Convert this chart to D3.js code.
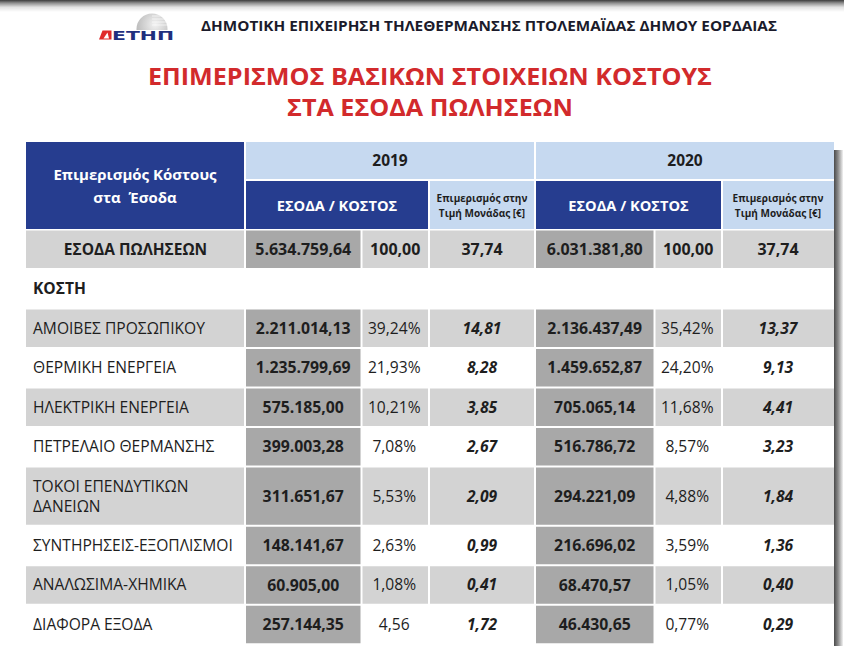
<!DOCTYPE html>
<html><head><meta charset="utf-8">
<script src="https://cdn.jsdelivr.net/npm/d3@7"></script>
<style>html,body{margin:0;padding:0;background:#fff;} svg{display:block;}</style>
</head><body><div id="chart"></div>
<script>
// ---------- DATA ----------
const companyName = "ΔΗΜΟΤΙΚΗ ΕΠΙΧΕΙΡΗΣΗ ΤΗΛΕΘΕΡΜΑΝΣΗΣ ΠΤΟΛΕΜΑΪΔΑΣ ΔΗΜΟΥ ΕΟΡΔΑΙΑΣ";
const logoText = "ΕΤΗΠ";
const titleLines = ["ΕΠΙΜΕΡΙΣΜΟΣ ΒΑΣΙΚΩΝ ΣΤΟΙΧΕΙΩΝ ΚΟΣΤΟΥΣ", "ΣΤΑ ΕΣΟΔΑ ΠΩΛΗΣΕΩΝ"];
const cornerHeader = ["Επιμερισμός Κόστους", "στα  Έσοδα"];
const years = ["2019", "2020"];
const amountHeader = "ΕΣΟΔΑ / ΚΟΣΤΟΣ";
const unitHeader = ["Επιμερισμός στην", "Τιμή Μονάδας [€]"];
const revenueLabel = "ΕΣΟΔΑ ΠΩΛΗΣΕΩΝ";
const revenue = [5634759.64, 6031381.80];
const revenuePct = [100.00, 100.00];
const revenueUnit = [37.74, 37.74];
const sectionLabel = "ΚΟΣΤΗ";
const categories = [
  "ΑΜΟΙΒΕΣ ΠΡΟΣΩΠΙΚΟΥ",
  "ΘΕΡΜΙΚΗ ΕΝΕΡΓΕΙΑ",
  "ΗΛΕΚΤΡΙΚΗ ΕΝΕΡΓΕΙΑ",
  "ΠΕΤΡΕΛΑΙΟ ΘΕΡΜΑΝΣΗΣ",
  "ΤΟΚΟΙ ΕΠΕΝΔΥΤΙΚΩΝ\nΔΑΝΕΙΩΝ",
  "ΣΥΝΤΗΡΗΣΕΙΣ-ΕΞΟΠΛΙΣΜΟΙ",
  "ΑΝΑΛΩΣΙΜΑ-ΧΗΜΙΚΑ",
  "ΔΙΑΦΟΡΑ ΕΞΟΔΑ"
];
const cost2019 = [2211014.13, 1235799.69, 575185.00, 399003.28, 311651.67, 148141.67, 60905.00, 257144.35];
const pct2019  = [39.24, 21.93, 10.21, 7.08, 5.53, 2.63, 1.08, 4.56];
const pctSign2019 = [true, true, true, true, true, true, true, false];
const unit2019 = [14.81, 8.28, 3.85, 2.67, 2.09, 0.99, 0.41, 1.72];
const cost2020 = [2136437.49, 1459652.87, 705065.14, 516786.72, 294221.09, 216696.02, 68470.57, 46430.65];
const pct2020  = [35.42, 24.20, 11.68, 8.57, 4.88, 3.59, 1.05, 0.77];
const pctSign2020 = [true, true, true, true, true, true, true, true];
const unit2020 = [13.37, 9.13, 4.41, 3.23, 1.84, 1.36, 0.40, 0.29];

// ---------- SETUP ----------
const W = 844, H = 646;
const FONT = "'Open Sans','Noto Sans','DejaVu Sans',sans-serif";
const loc = d3.formatLocale({decimal: ",", thousands: ".", grouping: [3], currency: ["", "€"]});
const fMoney = loc.format(",.2f");
const fNum = loc.format(".2f");

const C = {
  navy: "#263d8f", light: "#c6d9f0", gray: "#d3d3d3", dark: "#a8a8a8",
  text: "#1e1e1e", red: "#d22a2c"
};
const FS = {label: 15.6, value: 15.8, pct: 15.6, unit: 15.6, head: 14.6};

const svg = d3.select("#chart").append("svg")
  .attr("width", W).attr("height", H)
  .style("font-family", FONT);
const defs = svg.append("defs");

function fitText(sel, maxW) {
  sel.each(function () {
    const len = this.getComputedTextLength();
    if (len > maxW) d3.select(this).attr("textLength", maxW).attr("lengthAdjust", "spacingAndGlyphs");
  });
}

// top bar
const gTop = defs.append("linearGradient").attr("id", "topbar")
  .attr("x1", 0).attr("y1", 0).attr("x2", 0).attr("y2", 1);
gTop.append("stop").attr("offset", "0%").attr("stop-color", "#3c3c3c");
gTop.append("stop").attr("offset", "25%").attr("stop-color", "#8e8e8e");
gTop.append("stop").attr("offset", "60%").attr("stop-color", "#e2e2e2");
gTop.append("stop").attr("offset", "100%").attr("stop-color", "#ffffff");
svg.append("rect").attr("x", 0).attr("y", 0).attr("width", W).attr("height", 12).attr("fill", "url(#topbar)");

// logo
const gGlobe = defs.append("radialGradient").attr("id", "globe").attr("cx", "60%").attr("cy", "35%").attr("r", "70%");
gGlobe.append("stop").attr("offset", "0%").attr("stop-color", "#f2f2f2");
gGlobe.append("stop").attr("offset", "100%").attr("stop-color", "#b4b4b4");
defs.append("clipPath").attr("id", "globeClip").append("rect").attr("x", 130).attr("y", 8).attr("width", 50).attr("height", 22);
const logo = svg.append("g");
const globe = logo.append("g").attr("clip-path", "url(#globeClip)");
globe.append("circle").attr("cx", 152).attr("cy", 29).attr("r", 15.5).attr("fill", "url(#globe)");
[16, 19, 22, 25].forEach(y => globe.append("line").attr("x1", 152).attr("x2", 170).attr("y1", y).attr("y2", y)
  .attr("stroke", "#fff").attr("stroke-width", 0.8).attr("opacity", 0.8));
logo.append("polygon").attr("points", "99,39.5 102.5,30.5 111.5,30.5 111.5,39.5").attr("fill", "#e02a2a");
logo.append("polygon").attr("points", "103.5,38.5 107.5,32.5 109,38.5").attr("fill", "#fff");
logo.append("text").attr("x", 112).attr("y", 39.6).text(logoText)
  .attr("font-family", "'DejaVu Sans',sans-serif").attr("font-weight", 900).attr("font-size", 12.5)
  .attr("fill", "#1f2f7e").attr("textLength", 62).attr("lengthAdjust", "spacingAndGlyphs");

// company name
svg.append("text").attr("x", 201).attr("y", 30.5).text(companyName)
  .attr("font-weight", 700).attr("font-size", 14).attr("fill", "#1b1b2b")
  .attr("textLength", 576).attr("lengthAdjust", "spacingAndGlyphs");

// title
const titleW = [564, 286], titleY = [85, 116];
titleLines.forEach((t, i) => {
  svg.append("text").attr("x", 430).attr("y", titleY[i]).attr("text-anchor", "middle").text(t)
    .attr("font-weight", 700).attr("font-size", 23.5).attr("fill", C.red)
    .attr("textLength", titleW[i]).attr("lengthAdjust", "spacingAndGlyphs");
});

// ---------- TABLE LAYOUT ----------
const colEdges = [26, 245, 361.5, 429, 535, 654.5, 722, 834];
const colX = c => colEdges[c] + (c === 0 ? 0 : 1);
const colW = c => colEdges[c + 1] - colEdges[c] - (c === 0 ? 1 : (c === 6 ? 1 : 2));
const colMid = c => (colEdges[c] + colEdges[c + 1]) / 2;

// shadow at right
const gSh = defs.append("linearGradient").attr("id", "shadow").attr("x1", 0).attr("x2", 1).attr("y1", 0).attr("y2", 0);
gSh.append("stop").attr("offset", "0%").attr("stop-color", "#4a4a4a");
gSh.append("stop").attr("offset", "45%").attr("stop-color", "#8a8a8a");
gSh.append("stop").attr("offset", "100%").attr("stop-color", "#f2f2f2");
svg.append("rect").attr("x", 834).attr("y", 150).attr("width", 9).attr("height", H - 150).attr("fill", "url(#shadow)");

// header
const head = svg.append("g");
head.append("rect").attr("x", 26).attr("y", 142).attr("width", 218).attr("height", 87).attr("fill", C.navy);
cornerHeader.forEach((t, i) => head.append("text").attr("x", 135).attr("y", 175 + i * 23).attr("dy", "0.35em")
  .attr("text-anchor", "middle").attr("fill", "#fff").attr("font-weight", 700).attr("font-size", 15)
  .style("white-space", "pre").text(t));

years.forEach((yr, k) => {
  const c0 = 1 + k * 3;
  const x0 = colX(c0), x1 = colEdges[c0 + 3] - (k === 1 ? 0 : 1);
  head.append("rect").attr("x", x0).attr("y", 142).attr("width", x1 - x0).attr("height", 37).attr("fill", C.light);
  head.append("text").attr("x", (x0 + x1) / 2).attr("y", 161).attr("dy", "0.35em").attr("text-anchor", "middle")
    .attr("font-weight", 700).attr("font-size", 15.5).attr("fill", C.text).text(yr);
  const xa = colX(c0), xb = colEdges[c0 + 2] - 1;
  head.append("rect").attr("x", xa).attr("y", 181).attr("width", xb - xa).attr("height", 48).attr("fill", C.navy);
  head.append("text").attr("x", (xa + xb) / 2).attr("y", 206).attr("dy", "0.35em").attr("text-anchor", "middle")
    .attr("font-weight", 700).attr("font-size", FS.head).attr("fill", "#fff").text(amountHeader);
  head.append("rect").attr("x", colX(c0 + 2)).attr("y", 181).attr("width", colW(c0 + 2)).attr("height", 48).attr("fill", C.light);
  unitHeader.forEach((t, i) => head.append("text").attr("x", colMid(c0 + 2)).attr("y", 198 + i * 15).attr("dy", "0.35em")
    .attr("text-anchor", "middle").attr("font-weight", 700).attr("font-size", 10).attr("fill", C.text).text(t)
    .call(fitText, colW(c0 + 2) - 6));
});

// rows
const rows = [];
rows.push({type: "revenue", weight: 1});
rows.push({type: "section", weight: 1});
categories.forEach((cat, i) => rows.push({type: "body", i, lines: cat.split("\n"), weight: cat.includes("\n") ? 1.5 : 1}));
let acc = 0;
rows.forEach(r => { r.u0 = acc; acc += r.weight; r.u1 = acc; });
const y = d3.scaleLinear().domain([0, 1]).range([229, 268.5]);

const body = svg.append("g");
rows.forEach(r => {
  const top = y(r.u0) + 1.5, bot = y(r.u1) - 0.5, mid = (top + bot) / 2;
  if (r.type === "section") {
    body.append("text").attr("x", 33).attr("y", mid).attr("dy", "0.35em").attr("font-weight", 700)
      .attr("font-size", FS.label).attr("fill", C.text).text(sectionLabel);
    return;
  }
  const striped = r.type === "revenue" || r.i % 2 === 0;
  for (let c = 0; c < 7; c++) {
    const fill = (c === 1 || c === 4) ? C.dark : (striped ? C.gray : null);
    if (fill) body.append("rect").attr("x", colX(c)).attr("y", top).attr("width", colW(c)).attr("height", bot - top).attr("fill", fill);
  }
  if (r.type === "revenue") {
    body.append("text").attr("x", colMid(0)).attr("y", mid).attr("dy", "0.35em").attr("text-anchor", "middle")
      .attr("font-weight", 700).attr("font-size", 15.5).attr("fill", C.text).text(revenueLabel);
    years.forEach((yr, k) => {
      const c0 = 1 + k * 3;
      body.append("text").attr("x", colMid(c0)).attr("y", mid).attr("dy", "0.35em").attr("text-anchor", "middle")
        .attr("font-weight", 700).attr("font-size", 16).attr("fill", C.text).text(fMoney(revenue[k]));
      body.append("text").attr("x", colMid(c0 + 1)).attr("y", mid).attr("dy", "0.35em").attr("text-anchor", "middle")
        .attr("font-weight", 700).attr("font-size", 16).attr("fill", C.text).text(fNum(revenuePct[k]));
      body.append("text").attr("x", colMid(c0 + 2)).attr("y", mid).attr("dy", "0.35em").attr("text-anchor", "middle")
        .attr("font-weight", 700).attr("font-size", 16).attr("fill", C.text).text(fNum(revenueUnit[k]));
    });
    return;
  }
  const i = r.i;
  const lh = 20;
  r.lines.forEach((t, j) => body.append("text").attr("x", 33)
    .attr("y", mid + (j - (r.lines.length - 1) / 2) * lh).attr("dy", "0.35em")
    .attr("font-size", FS.label).attr("fill", C.text).text(t).call(fitText, 206));
  const sets = [[cost2019, pct2019, pctSign2019, unit2019], [cost2020, pct2020, pctSign2020, unit2020]];
  sets.forEach(([cost, pct, sign, unit], k) => {
    const c0 = 1 + k * 3;
    body.append("text").attr("x", colMid(c0)).attr("y", mid).attr("dy", "0.35em").attr("text-anchor", "middle")
      .attr("font-weight", 700).attr("font-size", FS.value).attr("fill", C.text).text(fMoney(cost[i]))
      .call(fitText, colW(c0) - 8);
    body.append("text").attr("x", colMid(c0 + 1) - 1).attr("y", mid).attr("dy", "0.35em").attr("text-anchor", "middle")
      .attr("font-size", FS.pct).attr("fill", C.text).text(fNum(pct[i]) + (sign[i] ? "%" : ""))
      .call(fitText, colW(c0 + 1) - 4);
    body.append("text").attr("x", colMid(c0 + 2)).attr("y", mid).attr("dy", "0.35em").attr("text-anchor", "middle")
      .attr("font-weight", 700).attr("font-style", "italic").attr("font-size", FS.unit).attr("fill", C.text).text(fNum(unit[i]));
  });
});
</script>
</body></html>
